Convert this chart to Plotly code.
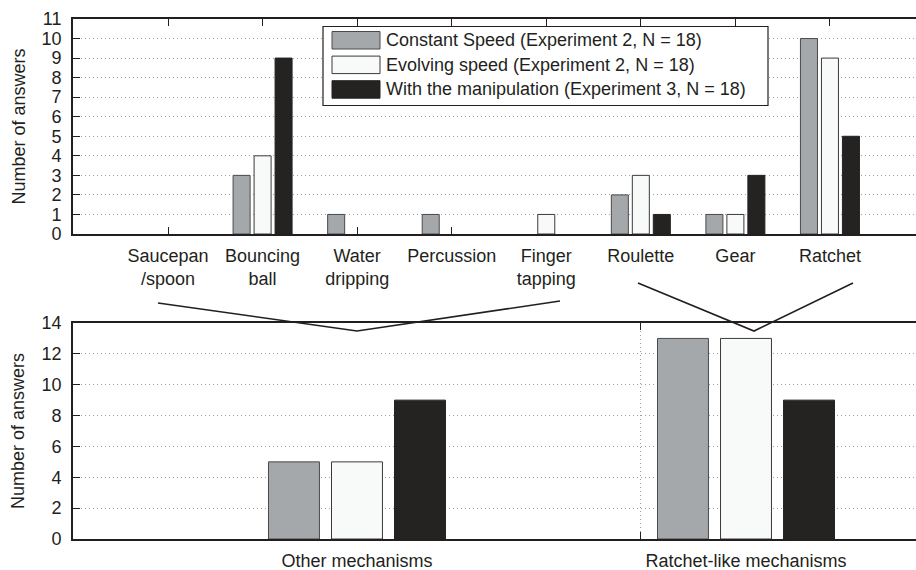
import plotly.graph_objects as go

# ---------------- data ----------------
categories = ["Saucepan<br>/spoon", "Bouncing<br>ball", "Water<br>dripping", "Percussion",
              "Finger<br>tapping", "Roulette", "Gear", "Ratchet"]
constant_speed = [0, 3, 1, 1, 0, 2, 1, 10]
evolving_speed = [0, 4, 0, 0, 1, 3, 1, 9]
with_manip = [0, 9, 0, 0, 0, 1, 3, 5]

groups = ["Other mechanisms", "Ratchet-like mechanisms"]
g_constant = [5, 13]
g_evolving = [5, 13]
g_manip = [9, 9]

series_names = ["Constant Speed (Experiment 2, N = 18)",
                "Evolving speed (Experiment 2, N = 18)",
                "With the manipulation (Experiment 3, N = 18)"]
fills = ["#a5a8aa", "#f8faf9", "#242321"]
edges = ["#4a4a4a", "#3a3a3a", "#242321"]

W, H = 916, 570
ML, MR, MT, MB = 73, 0, 19, 31
PW, PH = W - ML - MR, H - MT - MB
def px(x):
    return (x - ML) / PW
def py(y):
    return (H - MB - y) / PH

INK = "#231f20"
GRID = "#a0a0a0"
DOTS = "1px,3px"
FONT = "Liberation Sans, Arial, sans-serif"
FS = 18

def nz(vals):
    return [v if v != 0 else None for v in vals]

fig = go.Figure()

top_idx = list(range(len(categories)))
tw, toff = 0.18, 0.222
for k, vals in enumerate([constant_speed, evolving_speed, with_manip]):
    fig.add_trace(go.Bar(x=top_idx, y=nz(vals), xaxis="x", yaxis="y",
                         width=tw, offset=(k - 1) * toff - tw / 2,
                         marker=dict(color=fills[k], line=dict(color=edges[k], width=1)),
                         name=series_names[k], showlegend=False, hoverinfo="skip"))

bot_idx = list(range(len(groups)))
bw, boff = 0.131, 0.162
for k, vals in enumerate([g_constant, g_evolving, g_manip]):
    fig.add_trace(go.Bar(x=bot_idx, y=nz(vals), xaxis="x2", yaxis="y2",
                         width=bw, offset=(k - 1) * boff - bw / 2,
                         marker=dict(color=fills[k], line=dict(color=edges[k], width=1)),
                         name=series_names[k], showlegend=False, hoverinfo="skip"))

axis_common = dict(showline=True, linecolor=INK, linewidth=1.8, ticks="inside",
                   ticklen=7, tickcolor=INK, tickwidth=1.2, automargin=False,
                   tickfont=dict(family=FONT, size=FS, color=INK), zeroline=False)

fig.update_layout(
    width=W, height=H, margin=dict(l=ML, r=MR, t=MT, b=MB, autoexpand=False),
    paper_bgcolor="white", plot_bgcolor="white", barmode="overlay",
    showlegend=False,
    xaxis=dict(axis_common, domain=[0, 1], anchor="y", range=[-1.005, 7.91],
               tickmode="array", tickvals=top_idx, ticktext=categories,
               mirror="ticks", showgrid=False, layer="below traces",
               ticklabelstandoff=4),
    yaxis=dict(axis_common, domain=[py(234), 1], anchor="x", range=[0, 11],
               dtick=1, showgrid=True, gridcolor=GRID, griddash=DOTS,
               gridwidth=1, ticklabelstandoff=6, mirror=False),
    xaxis2=dict(axis_common, domain=[0, 1], anchor="y2", range=[-0.73, 1.437],
                tickmode="array", tickvals=bot_idx, ticktext=groups, ticks="",
                mirror="ticks", showgrid=False, ticklabelstandoff=4,
                minor=dict(tickmode="array", tickvals=[0.73], ticks="inside", ticklen=7,
                           tickcolor=INK, tickwidth=1.2, showgrid=True, gridcolor=GRID,
                           griddash=DOTS, gridwidth=1)),
    yaxis2=dict(axis_common, domain=[0, py(323)], anchor="x2", range=[0, 14],
                dtick=2, showgrid=True, gridcolor=GRID, griddash=DOTS,
                gridwidth=1, ticklabelstandoff=6, mirror=False),
)

for yc in (126.5, 431):
    fig.add_annotation(text="Number of answers", xref="paper", yref="paper",
                       x=px(18), y=py(yc), textangle=-90, showarrow=False,
                       xanchor="center", yanchor="middle",
                       font=dict(family=FONT, size=FS, color=INK))

def path(points):
    s = "M {} {}".format(px(points[0][0]), py(points[0][1]))
    for (a, b) in points[1:]:
        s += " L {} {}".format(px(a), py(b))
    return s

for pts in ([(158, 303), (357, 331), (560, 301)], [(638, 283), (754, 331), (853, 283)]):
    fig.add_shape(type="path", path=path(pts), xref="paper", yref="paper",
                  line=dict(color=INK, width=1.6))

fig.add_shape(type="rect", xref="paper", yref="paper", x0=px(323), x1=px(768),
              y0=py(105.5), y1=py(26.5), line=dict(color=INK, width=1.2), fillcolor="white")
for k in range(3):
    yt = 31.5 + k * 24.6
    fig.add_shape(type="rect", xref="paper", yref="paper", x0=px(332), x1=px(380),
                  y0=py(yt + 17.5), y1=py(yt), fillcolor=fills[k],
                  line=dict(color=edges[k], width=1))
    fig.add_annotation(text=series_names[k], xref="paper", yref="paper",
                       x=px(384), y=py(yt + 8.75), xanchor="left", yanchor="middle",
                       showarrow=False, font=dict(family=FONT, size=FS, color=INK))

fig.write_html("out.html", config={"displayModeBar": False},
               post_script="document.body.style.margin='0';document.body.style.overflow='hidden';")
